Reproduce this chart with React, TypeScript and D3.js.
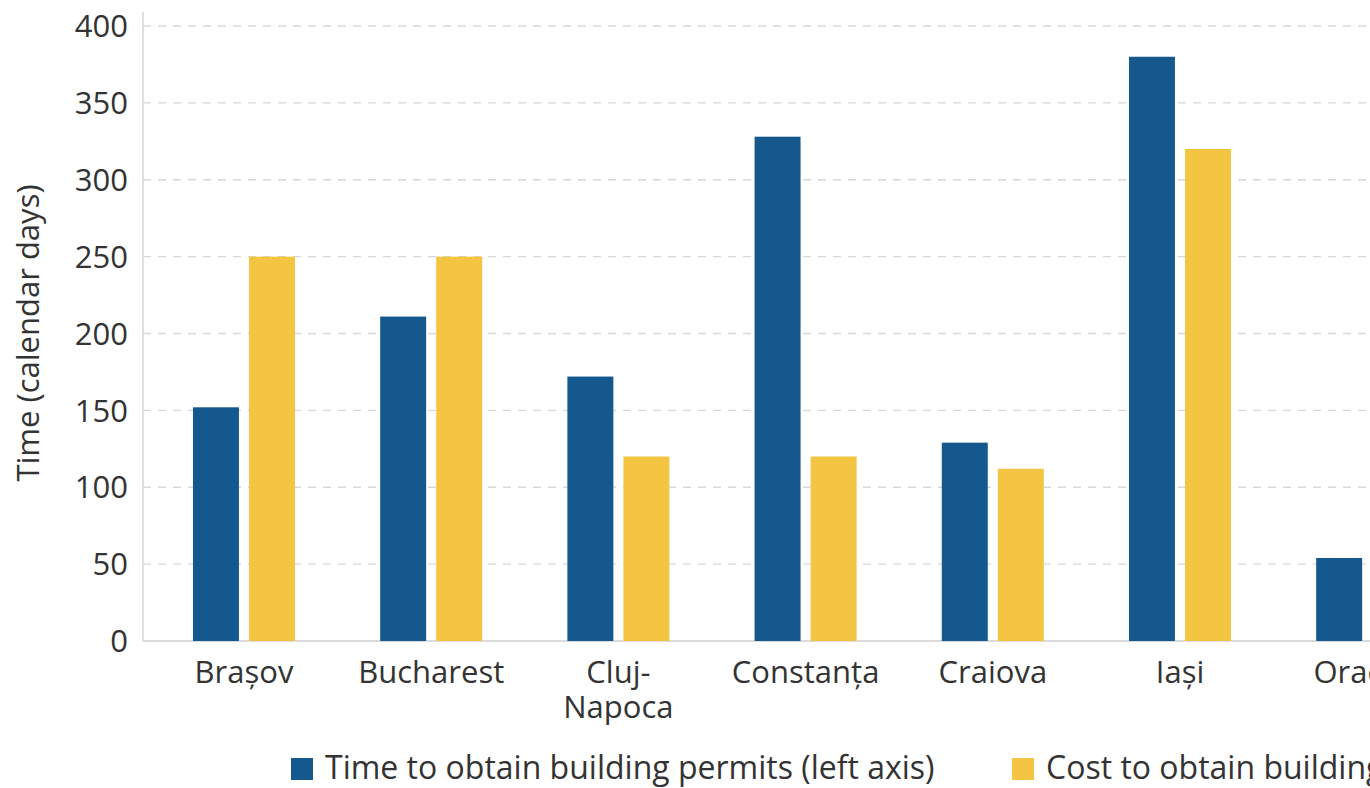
import { useEffect, useRef } from "react";
import * as d3 from "d3";

// cities visible in the picture (the chart is cut off after Oradea)
const cities = ["Brașov", "Bucharest", "Cluj-Napoca", "Constanța", "Craiova", "Iași", "Oradea"];
const timeDays = [152, 211, 172, 328, 129, 380, 54];
const costValues: (number | null)[] = [250, 250, 120, 120, 112, 320, null];
const yTicks = [0, 50, 100, 150, 200, 250, 300, 350, 400];
const seriesNames = [
  "Time to obtain building permits (left axis)",
  "Cost to obtain building permits (right axis)",
];

const BLUE = "#15588d";
const YELLOW = "#f4c543";
const FONT = "'Open Sans', 'Noto Sans', sans-serif";

function App() {
  const ref = useRef<SVGSVGElement>(null);

  useEffect(() => {
    const width = 1370;
    const height = 788;
    const left = 143;
    const top = 26;
    const bottom = 641;
    const step = 187.2;

    const svg = d3.select(ref.current);
    svg.selectAll("*").remove();
    svg.attr("width", width).attr("height", height);

    const pInner = 0.455;
    const pOuter = 0.267;
    const x = d3.scaleBand()
      .domain(cities)
      .range([left, left + step * (cities.length - pInner + 2 * pOuter)])
      .paddingInner(pInner)
      .paddingOuter(pOuter);

    const x1 = d3.scaleBand()
      .domain(["time", "cost"])
      .range([0, x.bandwidth()])
      .paddingInner(0.18)
      .paddingOuter(0);

    const y = d3.scaleLinear().domain([0, 400]).range([bottom, top]);
    // right axis is outside the visible area; same pixel mapping
    const yRight = d3.scaleLinear().domain([0, 400]).range([bottom, top]);

    // grid lines
    svg.append("g")
      .selectAll("line")
      .data(yTicks.filter(d => d > 0))
      .join("line")
      .attr("x1", left)
      .attr("x2", width)
      .attr("y1", d => y(d))
      .attr("y2", d => y(d))
      .attr("stroke", "#d8d8d8")
      .attr("stroke-width", 1.3)
      .attr("stroke-dasharray", "8,7");

    // axis lines
    svg.append("line")
      .attr("x1", left).attr("x2", left)
      .attr("y1", 12).attr("y2", bottom)
      .attr("stroke", "#d6d6d6").attr("stroke-width", 1.5);
    svg.append("line")
      .attr("x1", left).attr("x2", width)
      .attr("y1", bottom).attr("y2", bottom)
      .attr("stroke", "#cfcfcf").attr("stroke-width", 1.5);

    // y tick labels
    svg.append("g")
      .selectAll("text")
      .data(yTicks)
      .join("text")
      .attr("x", 128)
      .attr("y", d => y(d))
      .attr("dy", "0.36em")
      .attr("text-anchor", "end")
      .style("font-family", FONT)
      .style("font-size", "31px")
      .attr("fill", "#333")
      .text(d => d);

    // y title
    svg.append("text")
      .attr("transform", `translate(28,333) rotate(-90)`)
      .attr("dy", "0.36em")
      .attr("text-anchor", "middle")
      .style("font-family", FONT)
      .style("font-size", "31px")
      .attr("fill", "#333")
      .text("Time (calendar days)");

    const groups = svg.append("g")
      .selectAll("g")
      .data(cities)
      .join("g")
      .attr("transform", d => `translate(${x(d)},0)`);

    groups.append("rect")
      .attr("x", x1("time")!)
      .attr("width", x1.bandwidth())
      .attr("y", (d, i) => y(timeDays[i]))
      .attr("height", (d, i) => y(0) - y(timeDays[i]))
      .attr("fill", BLUE);

    groups.filter((d, i) => costValues[i] != null)
      .append("rect")
      .attr("x", x1("cost")!)
      .attr("width", x1.bandwidth())
      .attr("y", d => yRight(costValues[cities.indexOf(d)]!))
      .attr("height", d => yRight(0) - yRight(costValues[cities.indexOf(d)]!))
      .attr("fill", YELLOW);

    // x labels (Cluj-Napoca breaks after the hyphen)
    groups.each(function (d) {
      const lines = d.includes("-") ? [d.split("-")[0] + "-", d.split("-")[1]] : [d];
      const t = d3.select(this).append("text")
        .attr("text-anchor", "middle")
        .style("font-family", FONT)
        .style("font-size", "31px")
        .attr("fill", "#333");
      lines.forEach((l, k) => {
        t.append("tspan")
          .attr("x", x.bandwidth() / 2)
          .attr("y", 683 + k * 35)
          .text(l);
      });
    });

    // legend
    const legend = svg.append("g");
    const legendX = [291, 1012];
    seriesNames.forEach((name, i) => {
      legend.append("rect")
        .attr("x", legendX[i])
        .attr("y", 758)
        .attr("width", 22)
        .attr("height", 22)
        .attr("fill", i === 0 ? BLUE : YELLOW);
      legend.append("text")
        .attr("x", legendX[i] + 34)
        .attr("y", 779)
        .style("font-family", FONT)
        .style("font-size", "32px")
        .attr("fill", "#333")
        .text(name);
    });
  }, []);

  return (
    <svg
      ref={ref}
      style={{ position: "absolute", left: 0, top: 0, background: "#fff" }}
    ></svg>
  );
}

export default App;
